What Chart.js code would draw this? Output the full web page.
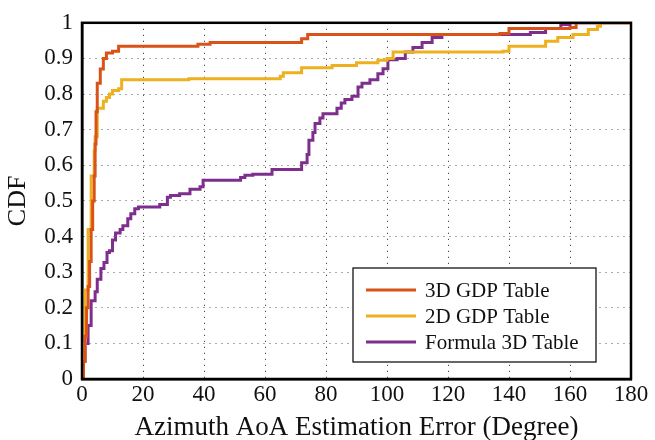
<!DOCTYPE html>
<html>
<head>
<meta charset="utf-8">
<script src="https://cdn.jsdelivr.net/npm/chart.js@4/dist/chart.umd.min.js"></script>
<style>
  html, body { margin: 0; padding: 0; background: #fff; }
  #wrap { width: 655px; height: 440px; }
</style>
</head>
<body>
<div id="wrap"><canvas id="cdf"></canvas></div>
<script>
// series: x = error (degree), y = CDF, step happens at x
const labels = ['3D GDP Table', '2D GDP Table', 'Formula 3D Table'];
const colors = ['#D95319', '#EDB120', '#7E2F8E'];

const gdp3dX = [0, 0.5, 1, 1.5, 2, 2.5, 3, 3.5, 4, 4.3, 4.6, 5, 6, 7, 8, 10, 12, 36, 38, 42, 70, 72, 74, 137, 140, 160, 162, 180];
const gdp3dY = [0, 0.05, 0.12, 0.2, 0.26, 0.33, 0.42, 0.5, 0.57, 0.66, 0.75, 0.83, 0.87, 0.9, 0.915, 0.92, 0.934, 0.934, 0.94, 0.945, 0.945, 0.955, 0.967, 0.97, 0.984, 0.987, 1, 1];

const gdp2dX = [0, 0.5, 1, 2, 3, 4, 4.3, 5, 6, 7, 8, 9, 10, 12, 13, 35, 65, 66, 72, 82, 90, 97, 100, 102, 138, 140, 148, 152, 156, 161, 166, 169, 170, 180];
const gdp2dY = [0, 0.1, 0.25, 0.42, 0.57, 0.64, 0.68, 0.76, 0.76, 0.78, 0.79, 0.80, 0.81, 0.815, 0.84, 0.843, 0.85, 0.86, 0.874, 0.88, 0.888, 0.895, 0.9, 0.918, 0.92, 0.934, 0.934, 0.948, 0.959, 0.967, 0.981, 0.99, 1, 1];

const formulaX = [0, 0.5, 1, 2, 3, 4.3, 5, 6.2, 7.2, 8.2, 9, 10, 11, 12.5, 13.4, 15, 16, 17.3, 18.5, 25.5, 28, 29, 32, 35.4, 38.7, 39.7, 52, 53.4, 56, 62.3, 72, 73.8, 74.4, 75.7, 76.4, 78, 79, 83.6, 85, 86.2, 88.5, 90.5, 91.8, 94.4, 97, 98.7, 100.3, 103.3, 106, 108.5, 111.5, 114.8, 118, 120.7, 147, 152, 157, 160, 161.6, 180];
const formulaY = [0, 0.05, 0.1, 0.15, 0.22, 0.245, 0.28, 0.31, 0.327, 0.355, 0.36, 0.39, 0.41, 0.42, 0.43, 0.45, 0.464, 0.478, 0.483, 0.49, 0.51, 0.515, 0.52, 0.533, 0.54, 0.558, 0.566, 0.572, 0.575, 0.588, 0.607, 0.63, 0.67, 0.692, 0.717, 0.733, 0.745, 0.76, 0.775, 0.785, 0.794, 0.82, 0.83, 0.84, 0.857, 0.871, 0.896, 0.90, 0.918, 0.931, 0.945, 0.959, 0.967, 0.967, 0.973, 0.984, 0.995, 1, 1, 1];

const xTicks = [0, 20, 40, 60, 80, 100, 120, 140, 160, 180];
const yTicks = [0, 0.1, 0.2, 0.3, 0.4, 0.5, 0.6, 0.7, 0.8, 0.9, 1];

const toPoints = (xs, ys) => xs.map((x, i) => ({ x: x, y: ys[i] }));
const series = [toPoints(gdp3dX, gdp3dY), toPoints(gdp2dX, gdp2dY), toPoints(formulaX, formulaY)];

const serif = "'Liberation Serif', 'DejaVu Serif', serif";

// box around the plot + legend drawn inside the chart area
const framePlugin = {
  id: 'frame',
  afterDraw(chart) {
    const { ctx, chartArea: a } = chart;
    ctx.save();
    ctx.strokeStyle = '#000';
    ctx.lineWidth = 2.5;
    ctx.strokeRect(a.left, a.top, a.right - a.left, a.bottom - a.top);

    // legend
    const bx = 353, by = 268, bw = 243, bh = 94;
    ctx.fillStyle = '#fff';
    ctx.fillRect(bx, by, bw, bh);
    ctx.lineWidth = 1.2;
    ctx.strokeRect(bx, by, bw, bh);
    ctx.font = '21px ' + serif;
    ctx.textBaseline = 'middle';
    chart.data.datasets.forEach((ds, i) => {
      const y = by + 22 + i * 26;
      ctx.strokeStyle = ds.borderColor;
      ctx.lineWidth = 3;
      ctx.beginPath();
      ctx.moveTo(bx + 13, y);
      ctx.lineTo(bx + 63, y);
      ctx.stroke();
      ctx.fillStyle = '#111';
      ctx.fillText(ds.label, bx + 72, y + 1);
    });
    ctx.restore();
  }
};

new Chart(document.getElementById('cdf'), {
  type: 'line',
  data: {
    datasets: series.map((pts, i) => ({
      label: labels[i],
      data: pts,
      borderColor: colors[i],
      borderWidth: 3,
      pointRadius: 0,
      stepped: true,
      fill: false,
    })),
  },
  options: {
    responsive: true,
    maintainAspectRatio: false,
    animation: false,
    layout: { padding: { top: 15, right: 24, left: 0, bottom: 0 } },
    plugins: { legend: { display: false }, tooltip: { enabled: false } },
    scales: {
      x: {
        type: 'linear',
        min: 0,
        max: 180,
        afterBuildTicks: (s) => { s.ticks = xTicks.map(v => ({ value: v })); },
        afterFit: (s) => { s.height = 61; },
        ticks: { color: '#111', font: { family: serif, size: 23 }, padding: 2, maxRotation: 0 },
        grid: { color: '#222', lineWidth: 1, drawTicks: false },
        border: { display: true, color: '#000', width: 2.5, dash: [1, 5] },
        title: { display: true, text: 'Azimuth AoA Estimation Error (Degree)', color: '#111', font: { family: serif, size: 27, lineHeight: 0.9 }, padding: { top: 0, bottom: 0 } },
      },
      y: {
        min: 0,
        max: 1,
        afterBuildTicks: (s) => { s.ticks = yTicks.map(v => ({ value: v })); },
        afterFit: (s) => { s.width = 82; },
        ticks: { color: '#111', font: { family: serif, size: 23 }, padding: 9, callback: (v) => String(Math.round(v * 10) / 10) },
        grid: { color: '#555', lineWidth: 1, drawTicks: false },
        border: { display: true, color: '#000', width: 2.5, dash: [1, 5] },
        title: { display: true, text: 'CDF', color: '#111', font: { family: serif, size: 26 }, padding: { top: 3, bottom: 0 } },
      },
    },
  },
  plugins: [framePlugin],
});
</script>
</body>
</html>
